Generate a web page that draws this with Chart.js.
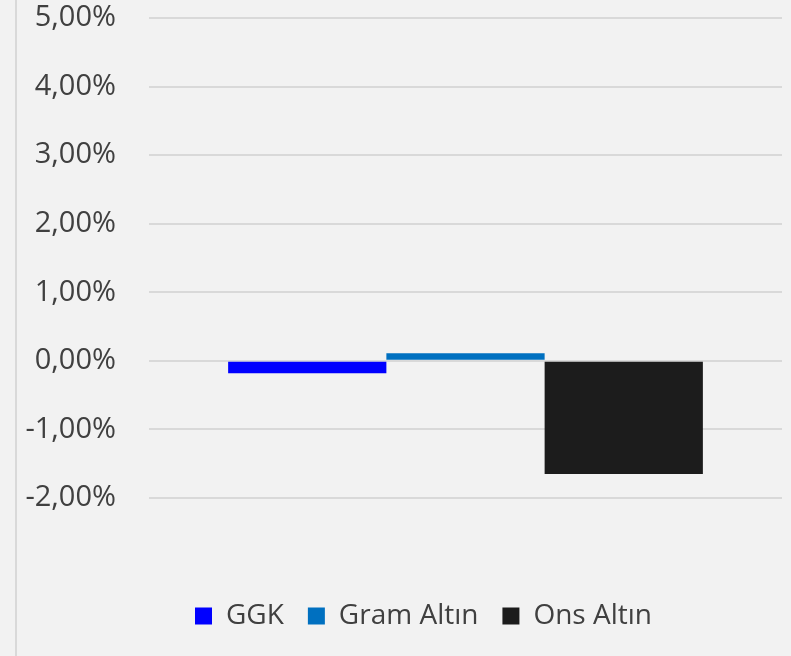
<!DOCTYPE html>
<html>
<head>
<meta charset="utf-8">
<script src="https://cdn.jsdelivr.net/npm/chart.js@4/dist/chart.umd.min.js"></script>
<style>
  html, body { margin: 0; padding: 0; background: #f2f2f2; }
  #wrap { width: 791px; height: 656px; position: relative; }
</style>
</head>
<body>
<div id="wrap"><canvas id="grafik" width="791" height="656"></canvas></div>
<script>
const kategoriler = ['']
const seriler = ['GGK', 'Gram Altın', 'Ons Altın']
const degerler = [-0.18, 0.11, -1.65]
const renkler = ['#0000ff', '#0070c0', '#1c1c1c']
const yTikler = [-2, -1, 0, 1, 2, 3, 4, 5]

const yazi = "'Open Sans', sans-serif"

// arka plan ve sol kenar çizgisi
const arkaPlan = {
  id: 'arkaPlan',
  beforeDraw(chart) {
    const c = chart.ctx
    c.save()
    c.fillStyle = '#f2f2f2'
    c.fillRect(0, 0, chart.width, chart.height)
    c.fillStyle = '#d9d9d9'
    c.fillRect(15, 0, 2, chart.height)
    c.restore()
  }
}

// lejant, orijinal grafik genişliğine göre ortalansın diye biraz sağa
const lejantKaydir = {
  id: 'lejantKaydir',
  afterLayout(chart) {
    if (chart.legend) chart.legend.left = 65
  }
}

new Chart(document.getElementById('grafik').getContext('2d'), {
  type: 'bar',
  data: {
    labels: kategoriler,
    datasets: seriler.map((ad, i) => ({
      label: ad,
      data: [degerler[i]],
      backgroundColor: renkler[i],
      borderWidth: 0,
      categoryPercentage: 0.75,
      barPercentage: 1
    }))
  },
  options: {
    responsive: false,
    animation: false,
    layout: { padding: { top: 18, right: 9, bottom: 16, left: 0 } },
    plugins: {
      tooltip: { enabled: false },
      legend: {
        position: 'bottom',
        labels: {
          color: '#404040',
          font: { family: yazi, size: 28 },
          boxWidth: 17,
          boxHeight: 17,
          padding: 24
        }
      }
    },
    scales: {
      x: {
        ticks: { display: false },
        grid: { display: false },
        border: { display: false },
        afterFit: s => { s.height = 80 }
      },
      y: {
        min: -2,
        max: 5,
        afterBuildTicks: s => { s.ticks = yTikler.map(v => ({ value: v })) },
        afterFit: s => {
          s.width = 149
          s.paddingTop = 0
          s.paddingBottom = 0
        },
        ticks: {
          color: '#404040',
          font: { family: yazi, size: 29 },
          padding: 33,
          callback: v => v.toFixed(2).replace('.', ',') + '%'
        },
        grid: { color: '#d9d9d9', lineWidth: 2, drawTicks: false },
        border: { display: false }
      }
    }
  },
  plugins: [arkaPlan, lejantKaydir]
})
</script>
</body>
</html>
